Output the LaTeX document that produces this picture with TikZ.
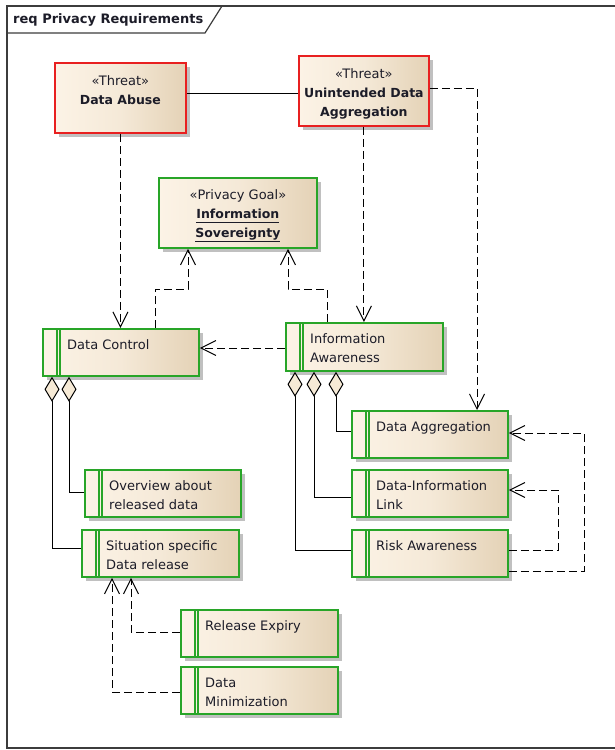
\documentclass[tikz,border=0pt]{standalone}
\usepackage{fontspec}
\setmainfont{DejaVu Sans}
\usetikzlibrary{arrows.meta,shadows}
\definecolor{thr}{RGB}{232,32,32}
\definecolor{grn}{RGB}{40,165,40}
\definecolor{fillL}{RGB}{252,243,230}
\definecolor{fillR}{RGB}{228,210,182}
\definecolor{dia}{RGB}{246,234,214}
\definecolor{frm}{RGB}{60,60,60}
\definecolor{txt}{RGB}{28,28,40}
\newcommand\regf{\fontsize{13}{19}\selectfont}
\newcommand\boldf{\fontsize{12.5}{18.5}\selectfont\bfseries}
\tikzset{
 boxbase/.style={draw, line width=1.8pt, anchor=north west, inner sep=0pt,
   left color=fillL, right color=fillR, middle color=fillL!70!fillR,
   drop shadow={shadow xshift=4pt, shadow yshift=-4pt, fill=black!45, opacity=0.55}},
 threatbox/.style={boxbase, draw=thr},
 reqbox/.style={boxbase, draw=grn},
 lbl/.style={inner sep=0pt, text=txt, font=\regf},
 dep/.style={draw=black, line width=1pt, dash pattern=on 8pt off 4pt,
   -{Straight Barb[length=15pt,width=15pt]}},
 agg/.style={draw=black, line width=1pt, {Diamond[length=25pt,width=15pt,fill=dia]}-},
 assoc/.style={draw=black, line width=1pt},
}
\newcommand\reqnode[6]{%
 \node[reqbox, minimum width=#4pt, minimum height=#5pt] (#1) at (#2,#3) {};
 \draw[grn, line width=1.3pt] ([xshift=15pt]#1.north west) -- ([xshift=15pt]#1.south west);
 \draw[grn, line width=1.3pt] ([xshift=18pt]#1.north west) -- ([xshift=18pt]#1.south west);
 \node[lbl, anchor=north west, align=left] (#1-t) at ([xshift=25pt,yshift=-10pt]#1.north west) {\rule{0pt}{11pt}#6};
}
\begin{document}
\begin{tikzpicture}[x=1pt,y=-1pt]
\useasboundingbox (0,0) rectangle (614,750);
% frame
\draw[frm, line width=1.8pt] (625,6) -- (7,6) -- (7,748) -- (625,748);
\draw[frm, line width=1.2pt] (7,33) -- (205,33) -- (222,6);
\node[inner sep=0pt, anchor=west, font=\fontsize{13}{16}\selectfont\bfseries, text=txt] (title) at (13,20) {req Privacy Requirements};

% threats
\node[threatbox, minimum width=131pt, minimum height=70pt] (abuse) at (54,62) {};
\node[lbl, anchor=north, align=center] (abuse-t) at ([yshift=-12pt]abuse.north)
  {\rule{0pt}{11pt}«Threat»\\{\boldf Data Abuse}};
\node[threatbox, minimum width=130pt, minimum height=70pt] (uda) at (298,55) {};
\node[lbl, anchor=north, align=center] (uda-t) at ([yshift=-12pt]uda.north)
  {\rule{0pt}{11pt}«Threat»\\{\boldf Unintended Data}\\{\boldf Aggregation}};

% goal
\node[reqbox, minimum width=158pt, minimum height=70pt] (goal) at (158,177) {};
\node[lbl, anchor=north, align=center] (goal-t) at ([yshift=-11pt]goal.north)
  {\rule{0pt}{11pt}«Privacy Goal»\\{\boldf\underline{Information\vphantom{g}}}\\{\boldf\underline{Sovereignty}}};

% requirements
\reqnode{dc}{42}{328}{156}{47}{Data Control}
\reqnode{ia}{285}{322}{157}{48}{Information\\Awareness}
\reqnode{dag}{351}{410}{156}{47}{Data Aggregation}
\reqnode{dil}{351}{469}{156}{47}{Data-Information\\Link}
\reqnode{risk}{351}{529}{156}{47}{Risk Awareness}
\reqnode{ov}{84}{469}{156}{47}{Overview about\\released data}
\reqnode{sit}{81}{529}{157}{47}{Situation specific\\Data release}
\reqnode{rex}{180}{609}{157}{47}{Release Expiry}
\reqnode{dmin}{180}{666}{157}{47}{Data\\Minimization}

% connectors
\draw[assoc] (abuse.east |- 0,93) -- (uda.west |- 0,93);
\draw[dep] (abuse.south) -- (abuse.south |- dc.north);
\draw[dep] (uda.south) -- (uda.south |- ia.north);
\draw[dep] (uda.east |- 0,88) -| (dag.north -| 477,0);
\draw[dep] (dc.north -| 155,0) |- (188,289) -- (goal.south -| 188,0);
\draw[dep] (ia.north -| 327,0) |- (288,289) -- (goal.south -| 288,0);
\draw[dep] (ia.west |- 0,348) -- (dc.east |- 0,348);

\draw[agg] (dc.south -| 52,0) |- (sit.west |- 0,548);
\draw[agg] (dc.south -| 69,0) |- (ov.west |- 0,492);
\draw[agg] (ia.south -| 336,0) |- (dag.west |- 0,431);
\draw[agg] (ia.south -| 314,0) |- (dil.west |- 0,497);
\draw[agg] (ia.south -| 295,0) |- (risk.west |- 0,550);

\draw[dep] (risk.east |- 0,550) -| (558,490) -- (dil.east |- 0,490);
\draw[dep] (risk.east |- 0,571) -| (584,433) -- (dag.east |- 0,433);
\draw[dep] (rex.west |- 0,632) -| (sit.south -| 131,0);
\draw[dep] (dmin.west |- 0,692) -| (sit.south -| 112,0);
\end{tikzpicture}
\end{document}
